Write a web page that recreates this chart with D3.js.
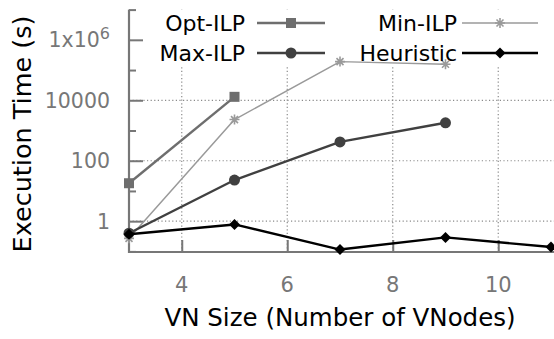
<!DOCTYPE html>
<html>
<head>
<meta charset="utf-8">
<script src="https://cdn.jsdelivr.net/npm/d3@7"></script>
<style>
  html, body { margin: 0; padding: 0; background: #fff; }
  svg { display: block; font-family: "DejaVu Sans", sans-serif; }
</style>
</head>
<body>
<svg id="chart" width="554" height="339"></svg>
<script>
// VN size on x, execution time (log scale) on y
const vnSizes = [3, 5, 7, 9, 11];
const optILP = [18, 13000];
const minILP = [0.27, 2300, 190000, 155000];
const maxILP = [0.4, 23, 420, 1800];
const heuristic = [0.37, 0.78, 0.115, 0.29, 0.14];

const xTicks = [4, 6, 8, 10];
const yMajorTicks = [1, 100, 10000, 1e6];
const yMinorTicks = [0.1, 10, 1000, 1e5, 1e7];
const yTickLabels = ["1", "100", "10000", "1x10|6"];

const series = [
  { name: "Opt-ILP", values: optILP, color: "#6e6e6e", width: 2.4, marker: "square" },
  { name: "Min-ILP", values: minILP, color: "#9a9a9a", width: 1.5, marker: "star" },
  { name: "Max-ILP", values: maxILP, color: "#404040", width: 2.4, marker: "circle" },
  { name: "Heuristic", values: heuristic, color: "#000000", width: 2.4, marker: "diamond" }
];

const svg = d3.select("#chart");
const plotLeft = 129, plotBottom = 252, plotRight = 551, plotTop = 9.6;

const x = d3.scaleLinear().domain([3, 11]).range([plotLeft, plotRight]);
const y = d3.scaleLog().domain([0.1, 1e7]).range([251.4, plotTop]);

const axisColor = "#777";
const gridColor = "#8a8a8a";

// grid
const grid = svg.append("g");
grid.selectAll("line.h").data(yMajorTicks).join("line")
  .attr("x1", plotLeft).attr("x2", 554)
  .attr("y1", d => y(d)).attr("y2", d => y(d))
  .attr("stroke", gridColor).attr("stroke-width", 1.2).attr("stroke-dasharray", "1.2,2.4");
grid.selectAll("line.v").data(xTicks).join("line")
  .attr("x1", d => x(d)).attr("x2", d => x(d))
  .attr("y1", plotBottom).attr("y2", plotTop)
  .attr("stroke", gridColor).attr("stroke-width", 1.2).attr("stroke-dasharray", "1.2,2.4");

// legend background
svg.append("rect").attr("x", 132).attr("y", plotTop).attr("width", 422).attr("height", 57)
  .attr("fill", "#fff");

// axes
const yAxisMajor = d3.axisRight(y).tickValues(yMajorTicks).tickSize(14).tickFormat("");
const yAxisMinor = d3.axisRight(y).tickValues(yMinorTicks).tickSize(7).tickFormat("");
const xAxis = d3.axisTop(x).tickValues(xTicks).tickSize(12).tickFormat("");

function styleAxis(g) {
  g.select(".domain").remove();
  g.selectAll(".tick line").attr("stroke", axisColor).attr("stroke-width", 2);
}
svg.append("g").attr("transform", `translate(${plotLeft},0)`).call(yAxisMajor).call(styleAxis);
svg.append("g").attr("transform", `translate(${plotLeft},0)`).call(yAxisMinor).call(styleAxis);
svg.append("g").attr("transform", `translate(0,${plotBottom})`).call(xAxis).call(styleAxis);

svg.append("line").attr("x1", plotLeft).attr("x2", plotLeft).attr("y1", plotTop).attr("y2", plotBottom + 1)
  .attr("stroke", axisColor).attr("stroke-width", 2.2);
svg.append("line").attr("x1", plotLeft).attr("x2", 554).attr("y1", plotBottom).attr("y2", plotBottom)
  .attr("stroke", axisColor).attr("stroke-width", 2.2);

// tick labels
const yl = svg.append("g").attr("fill", axisColor).attr("font-size", 20.5).attr("text-anchor", "end");
yMajorTicks.forEach((v, i) => {
  const parts = yTickLabels[i].split("|");
  const t = yl.append("text").attr("x", 110).attr("y", y(v)).attr("dy", "0.36em");
  if (parts.length > 1) {
    t.append("tspan").text(parts[0]);
    t.append("tspan").attr("dy", "-0.5em").attr("font-size", 16).text(parts[1]);
  } else {
    t.text(parts[0]);
  }
});
svg.append("g").attr("fill", axisColor).attr("font-size", 21).attr("text-anchor", "middle")
  .selectAll("text").data(xTicks).join("text")
  .attr("x", d => x(d)).attr("y", 292).text(d => d);

// axis titles
svg.append("text").attr("x", 340).attr("y", 326).attr("text-anchor", "middle")
  .attr("font-size", 24.5).attr("fill", "#000").text("VN Size (Number of VNodes)");
svg.append("text").attr("transform", "translate(31,134) rotate(-90)").attr("text-anchor", "middle")
  .attr("font-size", 25.5).attr("fill", "#000").text("Execution Time (s)");

// markers
function drawMarker(g, type, cx, cy, color) {
  if (type === "square") {
    g.append("rect").attr("x", cx - 5).attr("y", cy - 5).attr("width", 10).attr("height", 10).attr("fill", color);
  } else if (type === "circle") {
    g.append("circle").attr("cx", cx).attr("cy", cy).attr("r", 5.5).attr("fill", color);
  } else if (type === "diamond") {
    g.append("path").attr("d", `M${cx},${cy - 5.5}L${cx + 5.5},${cy}L${cx},${cy + 5.5}L${cx - 5.5},${cy}Z`).attr("fill", color);
  } else if (type === "star") {
    const r = 5;
    const p = [];
    p.push(`M${cx - r},${cy}L${cx + r},${cy}`);
    p.push(`M${cx - r * 0.7},${cy - r * 0.7}L${cx + r * 0.7},${cy + r * 0.7}`);
    p.push(`M${cx - r * 0.7},${cy + r * 0.7}L${cx + r * 0.7},${cy - r * 0.7}`);
    p.push(`M${cx},${cy - r}L${cx},${cy + r}`);
    g.append("path").attr("d", p.join("")).attr("stroke", color).attr("stroke-width", 1.6).attr("fill", "none");
  }
}

const line = d3.line().x(d => x(d[0])).y(d => y(d[1]));
const plot = svg.append("g");
series.forEach(s => {
  const pts = s.values.map((v, i) => [vnSizes[i], v]);
  plot.append("path").datum(pts).attr("d", line)
    .attr("fill", "none").attr("stroke", s.color).attr("stroke-width", s.width)
    .attr("stroke-linejoin", "round");
  pts.forEach(p => drawMarker(plot, s.marker, x(p[0]), y(p[1]), s.color));
});

// legend
const legendItems = [
  { s: series[0], tx: 245, ly: 23, lx1: 257, lx2: 325 },
  { s: series[2], tx: 245, ly: 53, lx1: 257, lx2: 325 },
  { s: series[1], tx: 457, ly: 23, lx1: 462, lx2: 538 },
  { s: series[3], tx: 457, ly: 53, lx1: 462, lx2: 538 }
];
const lg = svg.append("g");
legendItems.forEach(it => {
  lg.append("text").attr("x", it.tx).attr("y", it.ly).attr("dy", "0.36em")
    .attr("text-anchor", "end").attr("font-size", 22).attr("fill", "#000").text(it.s.name);
  lg.append("line").attr("x1", it.lx1).attr("x2", it.lx2).attr("y1", it.ly).attr("y2", it.ly)
    .attr("stroke", it.s.color).attr("stroke-width", it.s.width);
  drawMarker(lg, it.s.marker, (it.lx1 + it.lx2) / 2, it.ly, it.s.color);
});
</script>
</body>
</html>
